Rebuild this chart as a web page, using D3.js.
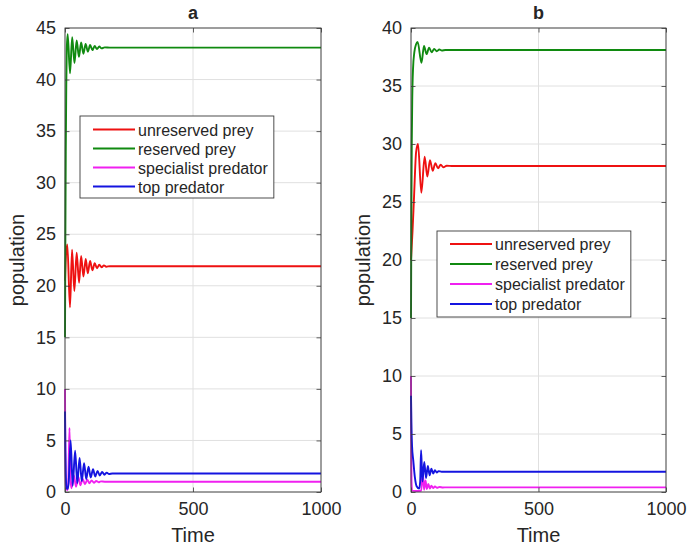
<!DOCTYPE html>
<html>
<head>
<meta charset="utf-8">
<script src="https://cdn.jsdelivr.net/npm/d3@7"></script>
<style>
  body { margin: 0; background: #fff; }
  svg { display: block; }
  text { font-family: "Liberation Sans", Arial, Helvetica, sans-serif; fill: #262626; }
</style>
</head>
<body>
<svg id="chart" width="689" height="548"></svg>
<script>
// ---- data: population time series, [time, population] ----
const seriesNames = ["unreserved prey", "reserved prey", "specialist predator", "top predator"];
const seriesColors = ["#ee1111", "#108a10", "#f020f0", "#1414e0"];

const timeTicks = [0, 500, 1000];
const popTicksA = [0, 5, 10, 15, 20, 25, 30, 35, 40, 45];
const popTicksB = [0, 5, 10, 15, 20, 25, 30, 35, 40];

// panel a
const unreservedPreyA = [[0,20.5],[3,22.6],[9,24.0],[19.5,17.9],[27.5,23.5],[36.5,19.5],[45.5,23.2],[55,20.3],[63,22.9],[72,20.9],[81,22.6],[89,21.2],[98,22.4],[107,21.5],[116,22.2],[125,21.7],[134,22.05],[143,21.8],[152,21.98],[161,21.85],[175,21.9],[1000,21.9]];
const reservedPreyA = [[0,15],[1.5,25],[3,33],[5,39.5],[7,43],[10.5,44.4],[19.6,40.6],[28,44.1],[37,41.6],[45.5,43.8],[54.5,42.2],[63,43.6],[72,42.5],[80.5,43.45],[89.5,42.7],[98,43.35],[107,42.85],[116,43.25],[125,42.95],[134,43.2],[143,43.02],[155,43.12],[175,43.1],[1000,43.1]];
const specialistPredatorA = [[0,10],[1,5],[2.5,1.2],[5,0.3],[10,0.2],[13,1.0],[17.5,6.2],[21,1.5],[25,0.35],[35,1.6],[43,0.5],[52,1.45],[60,0.65],[69,1.3],[78,0.75],[87,1.2],[95,0.85],[104,1.12],[113,0.9],[122,1.07],[131,0.95],[140,1.03],[155,1.0],[1000,1.0]];
const topPredatorA = [[0,7.8],[1.5,4],[3,1.8],[6,0.4],[10,0.3],[14,0.8],[22,5.0],[30,0.6],[39.5,4.0],[48,0.85],[57,3.3],[65.5,1.05],[74.5,2.8],[83,1.25],[92,2.45],[100.5,1.4],[109.5,2.2],[118,1.5],[127,2.05],[136,1.6],[145,1.95],[154,1.68],[163,1.88],[172,1.74],[185,1.8],[1000,1.8]];

// panel b
const unreservedPreyB = [[0,20],[6,22.5],[12,25.5],[20,29.3],[27.5,30.0],[40.5,25.8],[53.5,28.9],[64,27.2],[74.5,28.6],[85,27.7],[95.5,28.35],[106,27.9],[116.5,28.22],[127,28.0],[140,28.12],[160,28.1],[1000,28.1]];
const reservedPreyB = [[0,15],[1.5,24],[3,30],[5,34],[8,36.5],[13,37.9],[20,38.6],[26,38.8],[41,37.0],[51,38.45],[61,37.75],[71,38.3],[81,37.9],[91,38.2],[101,38.0],[111,38.15],[121,38.06],[135,38.1],[1000,38.1]];
const specialistPredatorB = [[0,10],[0.8,4.5],[2,1],[4,0.12],[20,0.08],[40,0.1],[46,1.8],[51,0.2],[57,1.0],[62,0.25],[68,0.7],[74,0.3],[80,0.55],[87,0.33],[94,0.48],[102,0.36],[112,0.43],[125,0.39],[140,0.4],[1000,0.4]];
const topPredatorB = [[0,8.3],[1.5,6],[4,4],[9,2.7],[15,1.3],[22,0.5],[32,0.3],[36,0.9],[39.5,3.6],[45,0.9],[52,2.6],[59,1.2],[66,2.25],[73,1.45],[80,2.0],[87,1.6],[94,1.88],[101,1.68],[108,1.8],[120,1.74],[1000,1.75]];

// ---- layout ----
const panels = [
  { title: "a", left: 65, right: 321, top: 28, bottom: 492, yMax: 45, yTicks: popTicksA,
    series: [unreservedPreyA, reservedPreyA, specialistPredatorA, topPredatorA],
    legend: { x: 80, y: 116, rowY0: 129.5, rowStep: 19 } },
  { title: "b", left: 411, right: 666, top: 28, bottom: 492, yMax: 40, yTicks: popTicksB,
    series: [unreservedPreyB, reservedPreyB, specialistPredatorB, topPredatorB],
    legend: { x: 437, y: 231, rowY0: 244, rowStep: 20 } }
];

const svg = d3.select("#chart");
const axisColor = "#3a3a3a";
const gridColor = "#e0e0e0";

panels.forEach(p => {
  const x = d3.scaleLinear().domain([0, 1000]).range([p.left, p.right]);
  const y = d3.scaleLinear().domain([0, p.yMax]).range([p.bottom, p.top]);
  const g = svg.append("g");

  // grid
  g.append("g").selectAll("line").data(timeTicks).join("line")
    .attr("x1", d => x(d)).attr("x2", d => x(d))
    .attr("y1", p.top).attr("y2", p.bottom)
    .attr("stroke", gridColor).attr("stroke-width", 1);
  g.append("g").selectAll("line").data(p.yTicks).join("line")
    .attr("y1", d => y(d)).attr("y2", d => y(d))
    .attr("x1", p.left).attr("x2", p.right)
    .attr("stroke", gridColor).attr("stroke-width", 1);

  // series lines
  const line = d3.line().x(d => x(d[0])).y(d => y(d[1])).curve(d3.curveMonotoneX);
  p.series.forEach((s, i) => {
    g.append("path").datum(s)
      .attr("d", line)
      .attr("fill", "none")
      .attr("stroke", seriesColors[i])
      .attr("stroke-width", 1.9)
      .attr("stroke-linejoin", "round");
  });

  // axes (ticks point inward)
  const xAxis = d3.axisBottom(x).tickValues(timeTicks).tickSize(-4.5).tickPadding(10).tickFormat(d3.format("d"));
  const xAxisTop = d3.axisTop(x).tickValues(timeTicks).tickSize(-4.5).tickFormat("");
  const yAxis = d3.axisLeft(y).tickValues(p.yTicks).tickSize(-4.5).tickPadding(9).tickFormat(d3.format("d"));
  const yAxisRight = d3.axisRight(y).tickValues(p.yTicks).tickSize(-4.5).tickFormat("");

  const styleAxis = sel => {
    sel.select(".domain").remove();
    sel.selectAll(".tick line").attr("stroke", axisColor).attr("stroke-width", 0.8);
    sel.selectAll(".tick text").attr("font-size", 18).attr("fill", "#262626")
      .attr("font-family", '"Liberation Sans", Arial, Helvetica, sans-serif');
  };
  g.append("g").attr("transform", `translate(0,${p.bottom})`).call(xAxis).call(styleAxis);
  g.append("g").attr("transform", `translate(0,${p.top})`).call(xAxisTop).call(styleAxis);
  g.append("g").attr("transform", `translate(${p.left},0)`).call(yAxis).call(styleAxis);
  g.append("g").attr("transform", `translate(${p.right},0)`).call(yAxisRight).call(styleAxis);

  // axes box
  g.append("rect")
    .attr("x", p.left).attr("y", p.top)
    .attr("width", p.right - p.left).attr("height", p.bottom - p.top)
    .attr("fill", "none").attr("stroke", axisColor).attr("stroke-width", 0.9);

  // title and labels
  const cx = (p.left + p.right) / 2;
  g.append("text").attr("x", cx).attr("y", 19).attr("text-anchor", "middle")
    .attr("font-size", 18).attr("font-weight", "bold").text(p.title);
  g.append("text").attr("x", cx).attr("y", 542).attr("text-anchor", "middle")
    .attr("font-size", 20).text("Time");
  g.append("text")
    .attr("transform", `translate(${p.left - 41},${(p.top + p.bottom) / 2}) rotate(-90)`)
    .attr("text-anchor", "middle").attr("font-size", 20).text("population");

  // legend
  const L = p.legend;
  const lg = g.append("g");
  const box = lg.append("rect").attr("x", L.x).attr("y", L.y)
    .attr("fill", "#fff").attr("stroke", axisColor).attr("stroke-width", 0.9);
  let maxW = 0;
  seriesNames.forEach((name, i) => {
    const ry = L.rowY0 + i * L.rowStep;
    lg.append("line")
      .attr("x1", L.x + 13).attr("x2", L.x + 55)
      .attr("y1", ry).attr("y2", ry)
      .attr("stroke", seriesColors[i]).attr("stroke-width", 1.8);
    const t = lg.append("text").attr("x", L.x + 58).attr("y", ry + 6)
      .attr("font-size", 16).attr("fill", "#1a1a1a").text(name);
    maxW = Math.max(maxW, t.node().getComputedTextLength());
  });
  box.attr("width", 58 + maxW + 6).attr("height", L.rowStep * 4 + 6);
});
</script>
</body>
</html>
